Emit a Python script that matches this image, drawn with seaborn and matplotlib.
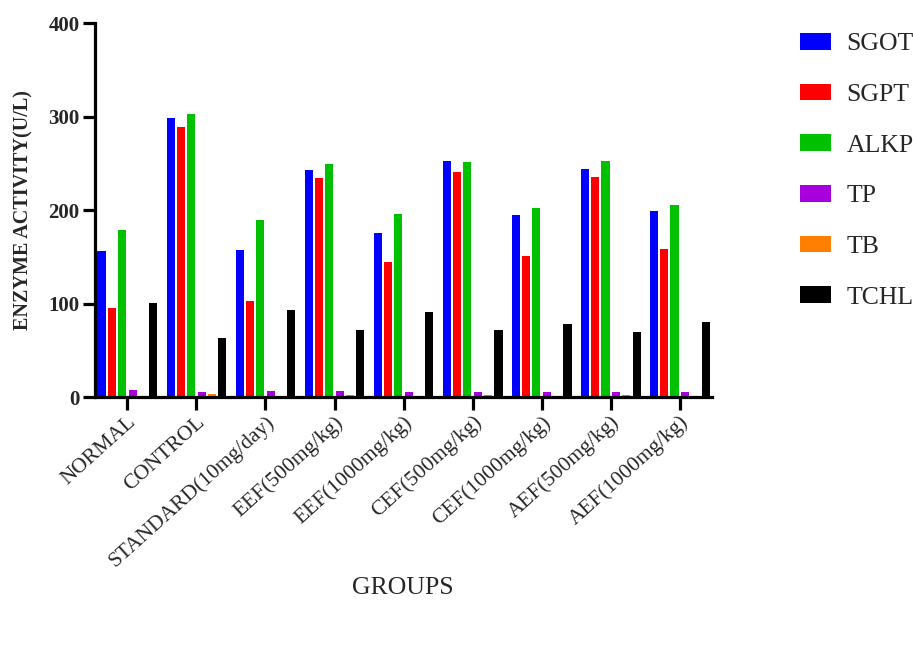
# Enzyme activity per treatment group, grouped bar chart

import pandas as pd
import seaborn as sb
import matplotlib.pyplot as plt

# Data
groups = ["NORMAL", "CONTROL", "STANDARD(10mg/day)", "EEF(500mg/kg)", "EEF(1000mg/kg)",
          "CEF(500mg/kg)", "CEF(1000mg/kg)", "AEF(500mg/kg)", "AEF(1000mg/kg)"]
markers = ["SGOT", "SGPT", "ALKP", "TP", "TB", "TCHL"]

sgot = [156.5, 299, 157.5, 242.8, 175.4, 252.7, 195.3, 244, 199]
sgpt = [95, 289, 103, 234.5, 144.4, 240.6, 150.8, 235.3, 158.6]
alkp = [179, 302.7, 190, 249.5, 196, 251.7, 202.5, 252.7, 205.7]
tp = [7.8, 5, 6, 6, 5.3, 5.3, 5.3, 5.3, 5.3]
tb = [0.3, 3.5, 0.3, 2, 0.3, 2, 0.3, 2, 0.3]
tchl = [100.5, 63.4, 93.4, 72.3, 91, 72, 78, 69.8, 79.8]

colors = {"SGOT": "#0000FF", "SGPT": "#FF0000", "ALKP": "#00C000",
          "TP": "#A800DC", "TB": "#FF8000", "TCHL": "#000000"}

# Long-form table for seaborn
rows = []
for name, vals in zip(markers, [sgot, sgpt, alkp, tp, tb, tchl]):
    for g, v in zip(groups, vals):
        rows.append({"group": g, "marker": name, "value": v})
df = pd.DataFrame(rows)

sb.set_theme(style="white")
plt.rcParams['font.family'] = ['Liberation Serif', 'DejaVu Serif']

fig = plt.figure(figsize=(9.13, 6.64), dpi=100)
ax = fig.add_axes([0.104, 0.402, 0.676, 0.563])

sb.barplot(data=df, x="group", y="value", hue="marker", order=groups, hue_order=markers,
           palette=colors, width=0.9, gap=0.22, saturation=1, linewidth=0, ax=ax)

ax.set_ylim(0, 400)
ax.set_xlim(-0.47, 8.47)
ax.set_yticks([0, 100, 200, 300, 400])
ax.set_yticklabels(["0", "100", "200", "300", "400"], fontweight="bold", fontsize=15)
ax.set_xticks(range(len(groups)))
ax.set_xticklabels(groups, rotation=42, ha="right", rotation_mode="anchor", fontsize=15.5)

for side in ["top", "right"]:
    ax.spines[side].set_visible(False)
for side in ["left", "bottom"]:
    ax.spines[side].set_linewidth(2.3)
    ax.spines[side].set_color("black")
ax.tick_params(axis="both", direction="out", length=9, width=2.3, color="black",
               bottom=True, left=True, pad=2)

ax.set_ylabel("ENZYME ACTIVITY(U/L)", fontweight="bold", fontsize=14.5)
ax.yaxis.set_label_coords(-0.1, 0.5)
ax.set_xlabel("GROUPS", fontsize=18.5)
ax.xaxis.set_label_coords(0.499, -0.48)

# Legend on the right, no frame
handles, labels = ax.get_legend_handles_labels()
ax.get_legend().remove()
fig.legend(handles, labels, loc="upper left", bbox_to_anchor=(800 / 913, 1 - 33 / 664),
           frameon=False, fontsize=18.5, handlelength=1.2, handleheight=0.62,
           labelspacing=1.1, handletextpad=0.6, borderaxespad=0, borderpad=0)

fig.savefig("out.png", dpi=100)
